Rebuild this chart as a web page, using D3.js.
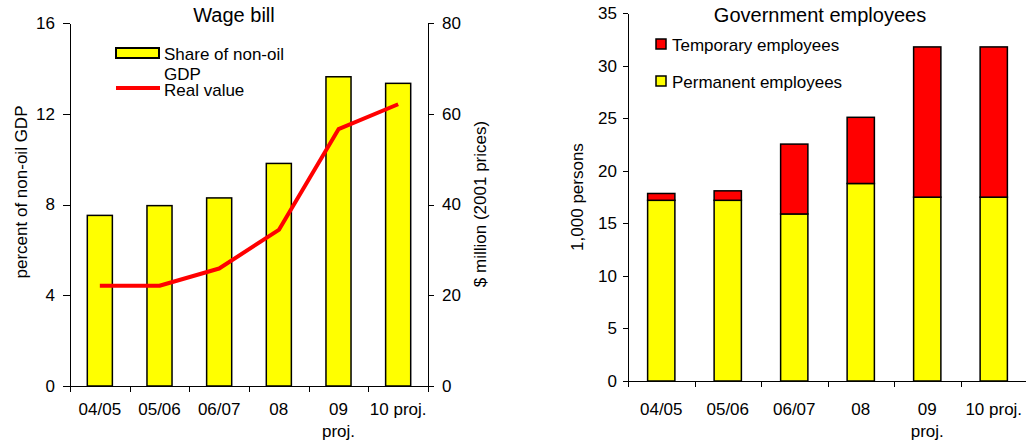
<!DOCTYPE html>
<html>
<head>
<meta charset="utf-8">
<script src="https://cdn.jsdelivr.net/npm/d3@7"></script>
<style>
  body { margin: 0; background: #fff; }
  svg text { font-family: "Liberation Sans", Arial, sans-serif; font-size: 17px; fill: #000; }
  svg text.title { font-size: 20px; }
  .axis path, .axis line { stroke: #000; stroke-width: 1; shape-rendering: crispEdges; }
</style>
</head>
<body>
<div id="chart"></div>
<script>
// dados
const categories = ["04/05", "05/06", "06/07", "08", "09\nproj.", "10 proj."];
const wageShare = [7.52, 7.95, 8.29, 9.81, 13.63, 13.34];    // % do PIB não petrolífero
const wageReal = [22.1, 22.1, 25.9, 34.4, 56.6, 62.1];       // $ milhões (preços 2001)
const permanent = [17.2, 17.2, 15.9, 18.8, 17.5, 17.5];      // milhares de pessoas
const temporary = [0.65, 0.9, 6.65, 6.3, 14.3, 14.3];
const leftTicks = [0, 4, 8, 12, 16];
const rightTicks = [0, 20, 40, 60, 80];
const empTicks = [0, 5, 10, 15, 20, 25, 30, 35];

const svg = d3.select("#chart")
  .append("svg")
  .attr("width", 1026)
  .attr("height", 447);

// rótulos do eixo x com quebra de linha
function drawXLabels(g, x) {
  const lab = g.selectAll(".xlab")
    .data(categories)
    .enter()
    .append("text")
    .attr("class", "xlab")
    .attr("text-anchor", "middle");
  lab.each(function (d) {
    const t = d3.select(this);
    d.split("\n").forEach((line, i) => {
      t.append("tspan")
        .attr("x", x(d) + x.bandwidth() / 2)
        .attr("y", 415 + i * 22)
        .text(line);
    });
  });
}

// ---------- gráfico da esquerda: Wage bill ----------
const L = { left: 70, right: 428, top: 23, bottom: 386 };

const xL = d3.scaleBand()
  .domain(categories)
  .range([L.left, L.right])
  .paddingInner(0.58)
  .paddingOuter(0.29);

const yL = d3.scaleLinear().domain([0, 16]).range([L.bottom, L.top]);
const yR = d3.scaleLinear().domain([0, 80]).range([L.bottom, L.top]);
const edgeL = d3.scaleLinear().domain([0, categories.length]).range([L.left, L.right]);

const gL = svg.append("g");

gL.selectAll(".bar")
  .data(wageShare)
  .enter()
  .append("rect")
  .attr("x", (d, i) => xL(categories[i]))
  .attr("y", d => yL(d))
  .attr("width", xL.bandwidth())
  .attr("height", d => yL(0) - yL(d))
  .attr("fill", "#ffff00")
  .attr("stroke", "#000")
  .attr("stroke-width", 1.5);

const line = d3.line()
  .x((d, i) => xL(categories[i]) + xL.bandwidth() / 2)
  .y(d => yR(d));

gL.append("path")
  .datum(wageReal)
  .attr("fill", "none")
  .attr("stroke", "#ff0000")
  .attr("stroke-width", 4)
  .attr("stroke-linejoin", "round")
  .attr("d", line);

gL.append("g")
  .attr("class", "axis")
  .attr("transform", `translate(${L.left},0)`)
  .call(d3.axisLeft(yL).tickValues(leftTicks).tickSize(7).tickPadding(8).tickSizeOuter(0));

gL.append("g")
  .attr("class", "axis")
  .attr("transform", `translate(${L.right},0)`)
  .call(d3.axisRight(yR).tickValues(rightTicks).tickSize(6).tickPadding(8).tickSizeOuter(0));

gL.append("g")
  .attr("class", "axis")
  .attr("transform", `translate(0,${L.bottom})`)
  .call(d3.axisBottom(edgeL).tickValues(d3.range(categories.length + 1)).tickFormat("").tickSize(6).tickSizeOuter(0));

drawXLabels(gL, xL);

gL.append("text")
  .attr("class", "title")
  .attr("x", 234)
  .attr("y", 22)
  .attr("text-anchor", "middle")
  .text("Wage bill");

gL.append("text")
  .attr("transform", "translate(27,192) rotate(-90)")
  .attr("text-anchor", "middle")
  .text("percent of non-oil GDP");

gL.append("text")
  .attr("transform", "translate(486,204) rotate(-90)")
  .attr("text-anchor", "middle")
  .text("$ million (2001 prices)");

// legenda
gL.append("rect")
  .attr("x", 116).attr("y", 48).attr("width", 43).attr("height", 10)
  .attr("fill", "#ffff00").attr("stroke", "#000").attr("stroke-width", 2);
gL.append("text").attr("x", 164).attr("y", 60).text("Share of non-oil");
gL.append("text").attr("x", 164).attr("y", 80).text("GDP");
gL.append("line")
  .attr("x1", 116).attr("x2", 160).attr("y1", 88).attr("y2", 88)
  .attr("stroke", "#ff0000").attr("stroke-width", 4);
gL.append("text").attr("x", 164).attr("y", 96).text("Real value");

// ---------- gráfico da direita: Government employees ----------
const R = { left: 628, right: 1027, top: 13.3, bottom: 381 };

const xE = d3.scaleBand()
  .domain(categories)
  .range([R.left, R.right])
  .paddingInner(0.59)
  .paddingOuter(0.295);

const yE = d3.scaleLinear().domain([0, 35]).range([R.bottom, R.top]);
const edgeE = d3.scaleLinear().domain([0, categories.length]).range([R.left, R.right]);

const stackData = categories.map((c, i) => ({ cat: c, permanent: permanent[i], temporary: temporary[i] }));
const series = d3.stack().keys(["permanent", "temporary"])(stackData);
const colors = { permanent: "#ffff00", temporary: "#ff0000" };

const gR = svg.append("g");

gR.selectAll(".layer")
  .data(series)
  .enter()
  .append("g")
  .attr("fill", d => colors[d.key])
  .selectAll("rect")
  .data(d => d)
  .enter()
  .append("rect")
  .attr("x", d => xE(d.data.cat))
  .attr("y", d => yE(d[1]))
  .attr("width", xE.bandwidth())
  .attr("height", d => yE(d[0]) - yE(d[1]))
  .attr("stroke", "#000")
  .attr("stroke-width", 1.5);

gR.append("g")
  .attr("class", "axis")
  .attr("transform", `translate(${R.left},0)`)
  .call(d3.axisLeft(yE).tickValues(empTicks).tickSize(5).tickPadding(6).tickSizeOuter(0));

gR.append("g")
  .attr("class", "axis")
  .attr("transform", `translate(0,${R.bottom})`)
  .call(d3.axisBottom(edgeE).tickValues(d3.range(categories.length + 1)).tickFormat("").tickSize(6).tickSizeOuter(0));

drawXLabels(gR, xE);

gR.append("text")
  .attr("class", "title")
  .attr("x", 820)
  .attr("y", 22)
  .attr("text-anchor", "middle")
  .text("Government employees");

gR.append("text")
  .attr("transform", "translate(583,197) rotate(-90)")
  .attr("text-anchor", "middle")
  .text("1,000 persons");

// legenda
const legend = [
  { key: "temporary", label: "Temporary employees", y: 39 },
  { key: "permanent", label: "Permanent employees", y: 76 }
];
legend.forEach(l => {
  gR.append("rect")
    .attr("x", 656).attr("y", l.y).attr("width", 10).attr("height", 10)
    .attr("fill", colors[l.key]).attr("stroke", "#000").attr("stroke-width", 1.5);
  gR.append("text").attr("x", 672).attr("y", l.y + 12).text(l.label);
});

svg.selectAll(".axis text").style("font-size", "17px").style("font-family", "\"Liberation Sans\", Arial, sans-serif").attr("fill", "#000");
</script>
</body>
</html>
